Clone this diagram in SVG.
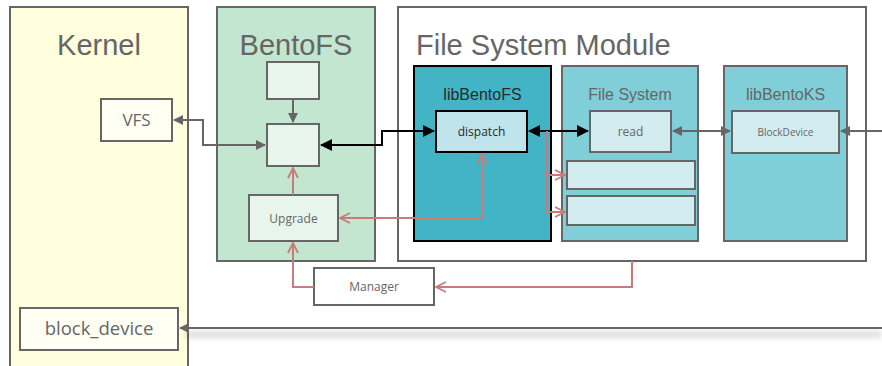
<svg xmlns="http://www.w3.org/2000/svg" width="882" height="366" viewBox="0 0 882 366">
<defs>
<marker id="ag" markerWidth="10" markerHeight="10" refX="9" refY="5" orient="auto-start-reverse" markerUnits="userSpaceOnUse"><path d="M0,0 L10,5 L0,10 z" fill="#666"/></marker>
<marker id="ab" markerWidth="12" markerHeight="12" refX="11" refY="6" orient="auto-start-reverse" markerUnits="userSpaceOnUse"><path d="M0,0 L12,6 L0,12 z" fill="#000"/></marker>
<marker id="ar" markerWidth="12" markerHeight="12" refX="11" refY="6" orient="auto-start-reverse" markerUnits="userSpaceOnUse"><path d="M1,1 L11,6 L1,11 M11,6 L3,6" fill="none" stroke="#c77b7b" stroke-width="1.8"/></marker>
<filter id="sh" x="-5%" y="-100%" width="110%" height="400%"><feGaussianBlur stdDeviation="3"/></filter>
</defs>
<style>
.t{font-family:"Open Sans","Liberation Sans",sans-serif;fill:#666;text-anchor:middle}
.a{font-family:"Liberation Sans",Arial,sans-serif;fill:#666;text-anchor:middle}
.big{font-size:29px}
.mid{font-size:16px}
.g{fill:none;stroke:#666;stroke-width:2}
.k{fill:none;stroke:#000;stroke-width:2}
.r{fill:none;stroke:#c77b7b;stroke-width:2}
.box{stroke:#666;stroke-width:2}
</style>
<rect width="882" height="366" fill="#fff"/>
<g id="kernel">
<rect x="10" y="7" width="178" height="370" fill="#ffffdd" class="box"/>
<text x="99" y="55" class="a big">Kernel</text>
</g>
<g id="vfs">
<rect x="101" y="99" width="71" height="42" fill="#fffff4" class="box"/>
<text x="136.5" y="126" class="t" font-size="17">VFS</text>
</g>
<g id="block_device">
<rect x="20" y="308" width="158" height="42" fill="#fffff4" class="box"/>
<text x="99" y="335" class="t" font-size="18.5">block_device</text>
</g>
<g id="bentofs">
<rect x="217" y="7" width="158" height="254" fill="#c2e6cf" class="box"/>
<text x="296" y="55" class="a big">BentoFS</text>
</g>
<g id="bento_top">
<rect x="267" y="62" width="52" height="37" fill="#e8f5ec" class="box"/>
</g>
<g id="bento_mid">
<rect x="267" y="124" width="52" height="42" fill="#e8f5ec" class="box"/>
</g>
<g id="upgrade">
<rect x="249" y="195" width="89" height="46" fill="#e8f5ec" class="box"/>
<text x="293.5" y="223" class="t" font-size="12">Upgrade</text>
</g>
<g id="fsm">
<rect x="398" y="7" width="468" height="254" fill="#fff" class="box"/>
<text x="416" y="55" class="a big" style="text-anchor:start">File System Module</text>
</g>
<g id="libbentofs">
<rect x="414" y="66" width="137" height="175" fill="#42b4c6" stroke="#000" stroke-width="2"/>
<text x="482.5" y="100" class="a mid" style="fill:#2a2a2a">libBentoFS</text>
</g>
<g id="dispatch">
<rect x="436" y="111" width="91" height="41" fill="#bfe4ec" stroke="#000" stroke-width="2"/>
<text x="481.5" y="136" class="t" font-size="12" style="fill:#2a2a2a">dispatch</text>
</g>
<g id="filesystem">
<rect x="562" y="66" width="136" height="175" fill="#80ced8" class="box"/>
<text x="630" y="100" class="a mid">File System</text>
</g>
<g id="read">
<rect x="590" y="111" width="81" height="41" fill="#d3ecef" class="box"/>
<text x="630.5" y="136" class="t" font-size="12">read</text>
</g>
<g id="fs_bar1">
<rect x="567" y="161" width="128" height="28" fill="#d3ecef" class="box"/>
</g>
<g id="fs_bar2">
<rect x="567" y="196" width="128" height="29" fill="#d3ecef" class="box"/>
</g>
<g id="libbentoks">
<rect x="724" y="66" width="123" height="175" fill="#80ced8" class="box"/>
<text x="785.5" y="100" class="a mid">libBentoKS</text>
</g>
<g id="blockdevice">
<rect x="732" y="111" width="107" height="42" fill="#d3ecef" class="box"/>
<text x="785.5" y="136" class="t" font-size="10">BlockDevice</text>
</g>
<g id="manager">
<rect x="314" y="268" width="120" height="37" fill="#fff" class="box"/>
<text x="374" y="291" class="t" font-size="12">Manager</text>
</g>
<g id="connectors">
<rect x="185" y="332" width="697" height="5" fill="#000" opacity="0.18" filter="url(#sh)"/>
<path d="M882,328 L180,328" class="g" marker-end="url(#ag)"/>
<path d="M882,131 L841,131" class="g" marker-end="url(#ag)"/>
<path d="M673,131 L730,131" class="g" marker-start="url(#ag)" marker-end="url(#ag)"/>
<path d="M174,120 L203,120 L203,145 L265,145" class="g" marker-start="url(#ag)" marker-end="url(#ag)"/>
<path d="M293,99 L293,122" class="g" marker-end="url(#ag)"/>
<path d="M321,145 L382,145 L382,131 L434,131" class="k" marker-start="url(#ab)" marker-end="url(#ab)"/>
<path d="M529,131 L588,131" class="k" marker-start="url(#ab)" marker-end="url(#ab)"/>
<path d="M547,131 L547,212 L565,212" class="r" marker-end="url(#ar)"/>
<path d="M547,175 L565,175" class="r" marker-end="url(#ar)"/>
<path d="M340,218 L482,218 L482,154" class="r" marker-start="url(#ar)" marker-end="url(#ar)"/>
<path d="M293,195 L293,168" class="r" marker-end="url(#ar)"/>
<path d="M314,287 L293,287 L293,243" class="r" marker-end="url(#ar)"/>
<path d="M632,261 L632,287 L436,287" class="r" marker-end="url(#ar)"/>
</g>
</svg>
